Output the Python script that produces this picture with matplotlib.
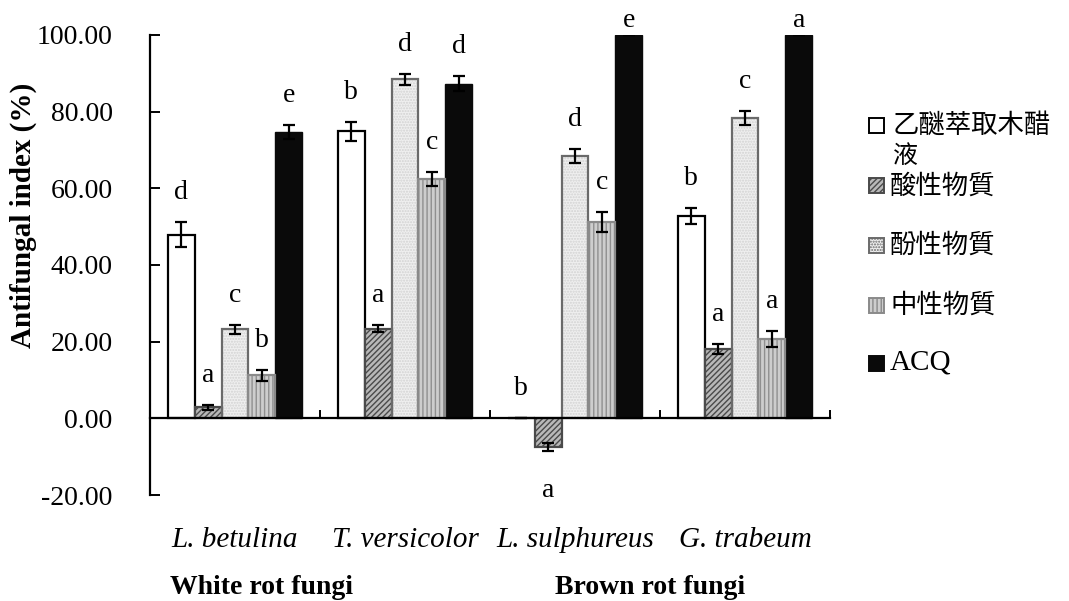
import matplotlib
matplotlib.use("Agg")
import matplotlib.pyplot as plt
import matplotlib.transforms as mtrans
import numpy as np
from matplotlib.patches import Rectangle

plt.rcParams['hatch.linewidth'] = 1.0

categories = ["L. betulina", "T. versicolor", "L. sulphureus", "G. trabeum"]
groups = ["White rot fungi", "Brown rot fungi"]
series_names = ["乙醚萃取木醋液", "酸性物質", "酚性物質", "中性物質", "ACQ"]

ether = [47.9, 74.9, 0.0, 52.8]
ether_err = [3.2, 2.5, 0.0, 2.1]
acid = [2.9, 23.4, -7.5, 18.2]
acid_err = [0.7, 0.9, 1.0, 1.3]
phenol = [23.2, 88.4, 68.4, 78.3]
phenol_err = [1.2, 1.4, 1.8, 1.9]
neutral = [11.2, 62.5, 51.2, 20.8]
neutral_err = [1.4, 1.8, 2.7, 2.1]
acq = [74.7, 87.3, 100.0, 100.0]
acq_err = [1.7, 1.9, 0.0, 0.0]

letters_ether = ["d", "b", "b", "b"]
letters_acid = ["a", "a", "a", "a"]
letters_phenol = ["c", "d", "d", "c"]
letters_neutral = ["b", "c", "c", "a"]
letters_acq = ["e", "d", "e", "a"]

yticks = [-20, 0, 20, 40, 60, 80, 100]

values = [ether, acid, phenol, neutral, acq]
errs = [ether_err, acid_err, phenol_err, neutral_err, acq_err]
letters = [letters_ether, letters_acid, letters_phenol, letters_neutral, letters_acq]

styles = [
    dict(facecolor="white", edgecolor="black", hatch=None, hcolor=None, lw=1.6),
    dict(facecolor="#b8b8b8", edgecolor="#4a4a4a", hatch="//////", hcolor="#4a4a4a", lw=1.6),
    dict(facecolor="#efefef", edgecolor="#6a6a6a", hatch="......", hcolor="#d2d2d2", lw=1.6),
    dict(facecolor="#cdcdcd", edgecolor="#8a8a8a", hatch="||||", hcolor="#8f8f8f", lw=1.6),
    dict(facecolor="#0a0a0a", edgecolor="#0a0a0a", hatch=None, hcolor=None, lw=1.0),
]

serif = "Liberation Serif"
cjk = ["Noto Sans CJK TC", "DejaVu Sans"]

fig = plt.figure(figsize=(10.69, 6.01), dpi=100)
ax = fig.add_axes([150/1069, 1-495/601, 680/1069, 460/601])

x = np.arange(len(categories))
w = 0.158
for k in range(5):
    st = styles[k]
    pos = x + (k - 2) * w
    if st["hatch"]:
        ax.bar(pos, values[k], width=w, facecolor=st["facecolor"], edgecolor=st["hcolor"],
               hatch=st["hatch"], linewidth=0, zorder=2)
        ax.bar(pos, values[k], width=w, facecolor="none", edgecolor=st["edgecolor"],
               linewidth=st["lw"], zorder=2.1)
    else:
        ax.bar(pos, values[k], width=w, facecolor=st["facecolor"], edgecolor=st["edgecolor"],
               linewidth=st["lw"], zorder=2)
    ax.errorbar(pos, values[k], yerr=errs[k], fmt="none", ecolor="black",
                elinewidth=1.6, capsize=4.5, capthick=1.6, zorder=3)
    for i in range(len(categories)):
        v = values[k][i]
        e = errs[k][i]
        if v < 0:
            y = v - e - 12.0
        else:
            y = min(v + e + 6.0, 102.0)
        ax.text(pos[i], y, letters[k][i], ha="center", va="baseline",
                fontsize=20, family=serif, clip_on=False, zorder=4)

ax.set_xlim(-0.5, 3.5)
ax.set_ylim(-20, 100)
ax.spines["top"].set_visible(False)
ax.spines["right"].set_visible(False)
ax.spines["bottom"].set_position(("data", 0))
for s in ["left", "bottom"]:
    ax.spines[s].set_linewidth(1.6)
ax.set_xticks(np.arange(-0.5, 3.6, 1.0))
ax.set_xticklabels([])
ax.tick_params(axis="x", direction="in", length=6, width=1.4)
ax.set_yticks(yticks)
ax.set_yticklabels(["%.2f" % t for t in yticks], fontsize=20, family=serif)
ax.tick_params(axis="y", direction="in", length=7, width=1.4, pad=27)
ax.set_ylabel("Antifungal index (%)", fontsize=21, fontweight="bold", family=serif)
ax.yaxis.set_label_coords(-0.166, 0.607)

blend = mtrans.blended_transform_factory(ax.transData, fig.transFigure)
for i, c in enumerate(categories):
    ax.text(i, 1 - 540/601, c, transform=blend, ha="center", va="center",
            fontsize=21, style="italic", family=serif)
group_x = [262/1069, 650/1069]
for j, g in enumerate(groups):
    fig.text(group_x[j], 1 - 587/601, g, ha="center", va="center",
             fontsize=20, fontweight="bold", family=serif)

# legend
rows = [125, 186, 245, 305, 363]
for k in range(5):
    st = styles[k]
    yc = 1 - rows[k] / 601
    sq = 15
    r = Rectangle((869/1069, yc - (sq/2)/601), sq/1069, sq/601, transform=fig.transFigure,
                  facecolor=st["facecolor"], edgecolor=st["edgecolor"] if k else "black",
                  hatch=st["hatch"], linewidth=1.4)
    fig.patches.append(r)
    name = series_names[k]
    if k == 0:
        fig.text(893/1069, yc, name[:-1], ha="left", va="center", fontsize=19, family=cjk)
        fig.text(893/1069, 1 - 156/601, name[-1], ha="left", va="center", fontsize=18, family=cjk)
    elif k == 4:
        fig.text(890/1069, yc, name, ha="left", va="center", fontsize=21, family=serif)
    else:
        fig.text(890/1069, yc, name, ha="left", va="center", fontsize=19, family=cjk)

fig.savefig("out.png", dpi=100)
